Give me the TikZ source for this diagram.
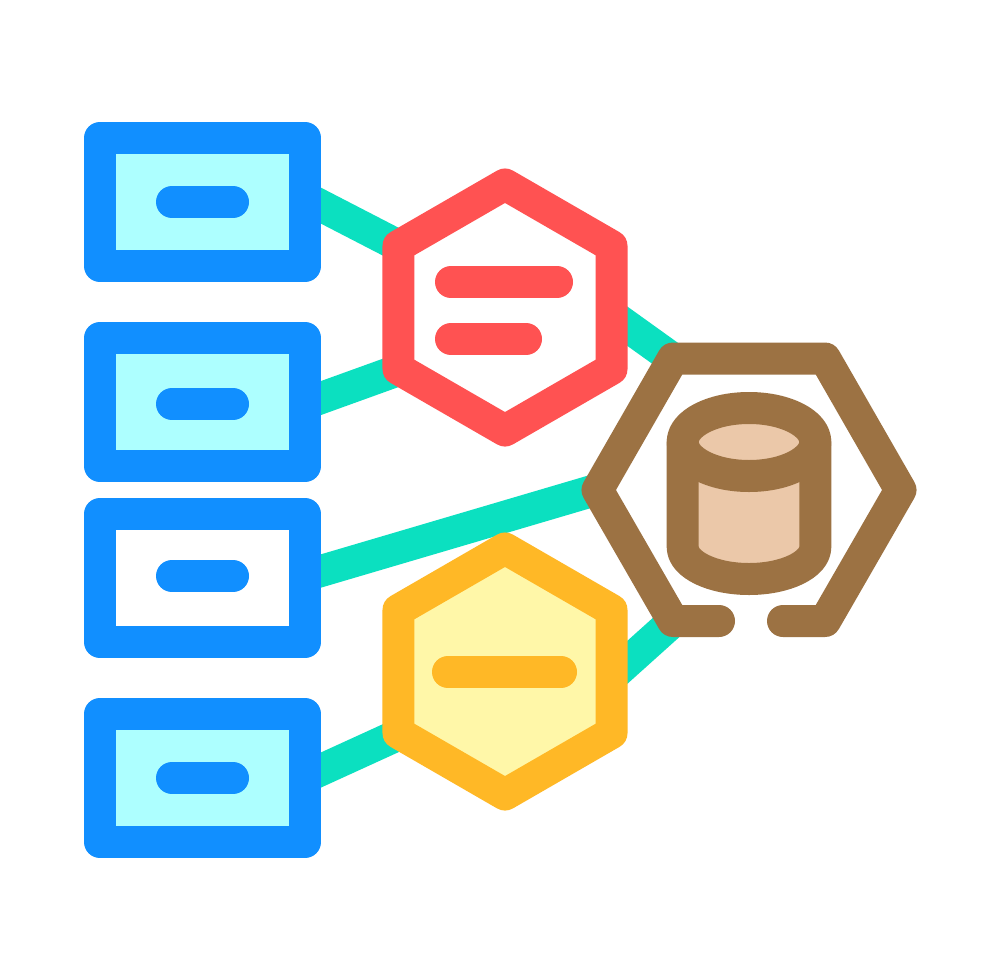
\documentclass[tikz,border=0pt]{standalone}
\usetikzlibrary{shapes.geometric}
\definecolor{cblue}{HTML}{118FFF}
\definecolor{ccyan}{HTML}{ADFFFF}
\definecolor{cteal}{HTML}{0BE0C0}
\definecolor{cred}{HTML}{FF5252}
\definecolor{cyel}{HTML}{FFB826}
\definecolor{cpale}{HTML}{FFF7A8}
\definecolor{cbrown}{HTML}{9C7243}
\definecolor{ctan}{HTML}{EBC8A9}
\pgfdeclarelayer{bg}
\pgfsetlayers{bg,main}
\tikzset{
  thick line/.style={line width=32pt,line join=round},
  boxnode/.style={draw=cblue,thick line,rectangle,minimum width=205pt,minimum height=128pt,inner sep=0pt,outer sep=0pt},
  hexnode/.style={thick line,regular polygon,regular polygon sides=6,shape border rotate=30,minimum size=246pt,inner sep=0pt,outer sep=0pt},
  pill/.style={line width=32pt,line cap=round},
  link/.style={cteal,line width=32pt},
  brownline/.style={cbrown,line width=32pt,line join=round,line cap=round}
}
\begin{document}
\begin{tikzpicture}[x=1pt,y=-1pt]
\useasboundingbox (0,0) rectangle (1000,971);
% boxes
\node[boxnode,fill=ccyan] (b1) at (202.5,202) {};
\node[boxnode,fill=ccyan] (b2) at (202.5,402) {};
\node[boxnode,fill=white] (b3) at (202.5,578) {};
\node[boxnode,fill=ccyan] (b4) at (202.5,778) {};
\draw[pill,cblue] (172,202) -- (233,202);
\draw[pill,cblue] (172,404) -- (233,404);
\draw[pill,cblue] (172,576) -- (233,576);
\draw[pill,cblue] (172,778) -- (233,778);
% hexagons
\node[hexnode,draw=cred,fill=white] (h1) at (505,307.5) {};
\draw[pill,cred] (451,282) -- (557,282);
\draw[pill,cred] (451,339) -- (526,339);
\node[hexnode,draw=cyel,fill=cpale] (h2) at (505,671.5) {};
\draw[pill,cyel] (448,672) -- (561,672);
% brown hexagon
\coordinate (gl) at (719,621);
\coordinate (gr) at (783,621);
\coordinate (p1) at (673,621);
\coordinate (p2) at (597.5,490);
\coordinate (p3) at (673,358.5);
\coordinate (p4) at (825,358.5);
\coordinate (p5) at (900.5,490);
\coordinate (p6) at (825,621);
\fill[white] (p1) -- (p2) -- (p3) -- (p4) -- (p5) -- (p6) -- cycle;
\draw[brownline] (gl) -- (p1) -- (p2) -- (p3) -- (p4) -- (p5) -- (p6) -- (gr);
% cylinder
\fill[ctan] (682.7,442) -- (682.7,547) .. controls (682.7,564.7) and (712.4,579) .. (749,579)
  .. controls (785.6,579) and (815.3,564.7) .. (815.3,547) -- (815.3,442) -- cycle;
\fill[ctan] (749,442) ellipse [x radius=66.3pt,y radius=34pt];
\draw[brownline] (682.7,442) -- (682.7,547) .. controls (682.7,564.7) and (712.4,579) .. (749,579)
  .. controls (785.6,579) and (815.3,564.7) .. (815.3,547) -- (815.3,442);
\draw[brownline] (749,442) ellipse [x radius=66.3pt,y radius=34pt];
% connectors
\coordinate (l1a) at (305,197.4);  \coordinate (l1b) at (402,247.5);
\coordinate (l2a) at (305,403.8);  \coordinate (l2b) at (402,368.8);
\coordinate (l3a) at (305,575.7);  \coordinate (l3b) at (600,488.7);
\coordinate (l4a) at (305,777.3);  \coordinate (l4b) at (402,733);
\coordinate (l5a) at (611,314.5);  \coordinate (l5b) at (680,364);
\coordinate (l6a) at (611,677);    \coordinate (l6b) at (680,615);
\begin{pgfonlayer}{bg}
\fill[white] (0,0) rectangle (1000,971);
\draw[link] (l1a) -- (l1b);
\draw[link] (l2a) -- (l2b);
\draw[link] (l3a) -- (l3b);
\draw[link] (l4a) -- (l4b);
\draw[link] (l5a) -- (l5b);
\draw[link] (l6a) -- (l6b);
\end{pgfonlayer}
\end{tikzpicture}
\end{document}
